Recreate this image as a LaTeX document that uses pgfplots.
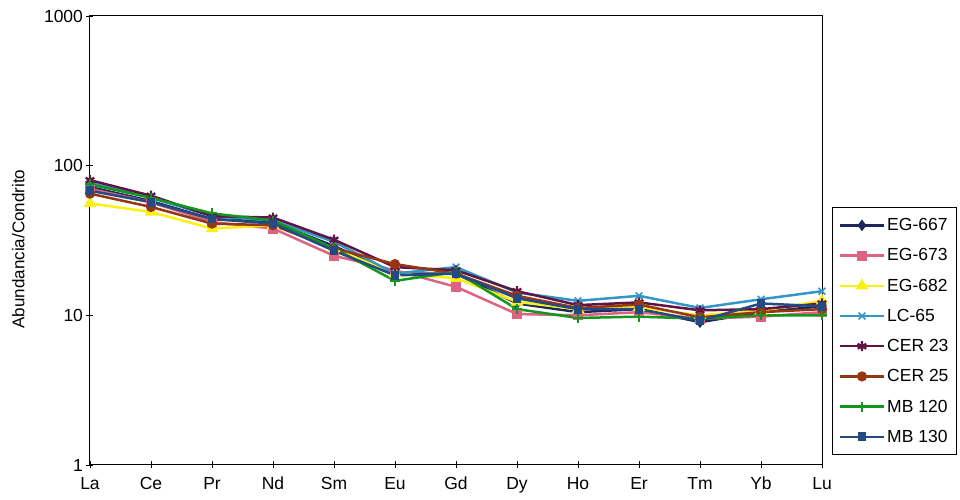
\documentclass[border=0pt]{standalone}
\usepackage{fontspec}
\setmainfont{Liberation Sans}
\usepackage{pgfplots}
\pgfplotsset{compat=1.18}
\definecolor{cA}{RGB}{30,40,90}
\definecolor{cB}{RGB}{220,100,130}
\definecolor{cC}{RGB}{250,240,20}
\definecolor{cD}{RGB}{50,150,200}
\definecolor{cE}{RGB}{95,20,70}
\definecolor{cF}{RGB}{150,55,20}
\definecolor{cG}{RGB}{20,150,30}
\definecolor{cH}{RGB}{35,75,130}
\begin{document}
\begin{tikzpicture}
\path[use as bounding box] (0,0) rectangle (960pt,500pt);
\begin{axis}[
  at={(90pt,35pt)}, anchor=south west,
  scale only axis, width=732pt, height=449pt,
  ymode=log, ymin=1, ymax=1000,
  xmin=0, xmax=12,
  xtick={0,...,12},
  xticklabels={La,Ce,Pr,Nd,Sm,Eu,Gd,Dy,Ho,Er,Tm,Yb,Lu},
  ytick={1,10,100,1000},
  yticklabels={1,10,100,1000},
  minor ytick={},
  yminorticks=false,
  tick pos=left,
  tick align=center,
  major tick length=7pt,
  tick style={black, line width=0.8pt},
  axis line style={black, line width=1pt},
  ticklabel style={font=\fontsize{17.5}{19}\selectfont},
  xticklabel style={yshift=-5pt},
  /pgf/number format/assume math mode=true,
  ylabel={Abundancia/Condrito},
  ylabel style={font=\fontsize{17}{19}\selectfont, at={(axis description cs:-0.098,0.481)}, anchor=center},
  every axis plot/.append style={line width=2.5pt, mark size=3.8pt, mark options={solid}},
  legend style={at={(rel axis cs:1.1844,0.5746)}, anchor=north east,
    font=\fontsize{17.5}{19}\selectfont, draw=black, line width=1pt,
    row sep=12.5pt, inner xsep=6pt, inner ysep=9pt},
  legend cell align=left,
  legend image code/.code={\draw[mark repeat=2,mark phase=2] plot coordinates {(0pt,0pt) (22pt,0pt) (44pt,0pt)};},
]
\addplot[cA, mark=diamond*] coordinates {(0,72)(1,58)(2,44)(3,42)(4,29)(5,19)(6,19)(7,12)(8,10.5)(9,11)(10,9)(11,10.5)(12,11.5)};
\addplot[cB, mark=square*] coordinates {(0,70)(1,57)(2,42)(3,38)(4,25)(5,20)(6,15.5)(7,10.2)(8,10)(9,10.5)(10,9.5)(11,9.8)(12,10.5)};
\addplot[cC, mark=triangle*, mark size=4.8pt] coordinates {(0,56)(1,49)(2,38)(3,40)(4,28)(5,19)(6,17.7)(7,12.3)(8,11)(9,11.3)(10,10)(11,10.7)(12,12.5)};
\addplot[cD, mark=x, mark size=4.8pt, mark options={line width=1.6pt}] coordinates {(0,77)(1,61)(2,46)(3,43)(4,31)(5,19)(6,21)(7,14.2)(8,12.5)(9,13.5)(10,11.2)(11,12.8)(12,14.5)};
\addplot[cE, mark=asterisk, mark size=5pt, mark options={line width=2.2pt}] coordinates {(0,80)(1,63)(2,46)(3,45)(4,32)(5,21)(6,20)(7,14.5)(8,11.7)(9,12.2)(10,10.8)(11,11)(12,12)};
\addplot[cF, mark=*] coordinates {(0,65)(1,53)(2,41)(3,40)(4,28)(5,22)(6,19)(7,13.5)(8,11.2)(9,11.8)(10,9.7)(11,10.5)(12,11)};
\addplot[cG, mark=+, mark size=5pt, mark options={line width=1.8pt}] coordinates {(0,75)(1,61)(2,48)(3,43)(4,28)(5,17)(6,19.5)(7,11)(8,9.6)(9,9.8)(10,9.5)(11,10)(12,10)};
\addplot[cH, mark=square*, mark size=3.2pt] coordinates {(0,68)(1,57)(2,44)(3,41)(4,27)(5,18.5)(6,19)(7,13)(8,11)(9,11)(10,9.2)(11,12)(12,11.5)};
\legend{EG-667,EG-673,EG-682,LC-65,CER 23,CER 25,MB 120,MB 130}
\end{axis}
\end{tikzpicture}
\end{document}
